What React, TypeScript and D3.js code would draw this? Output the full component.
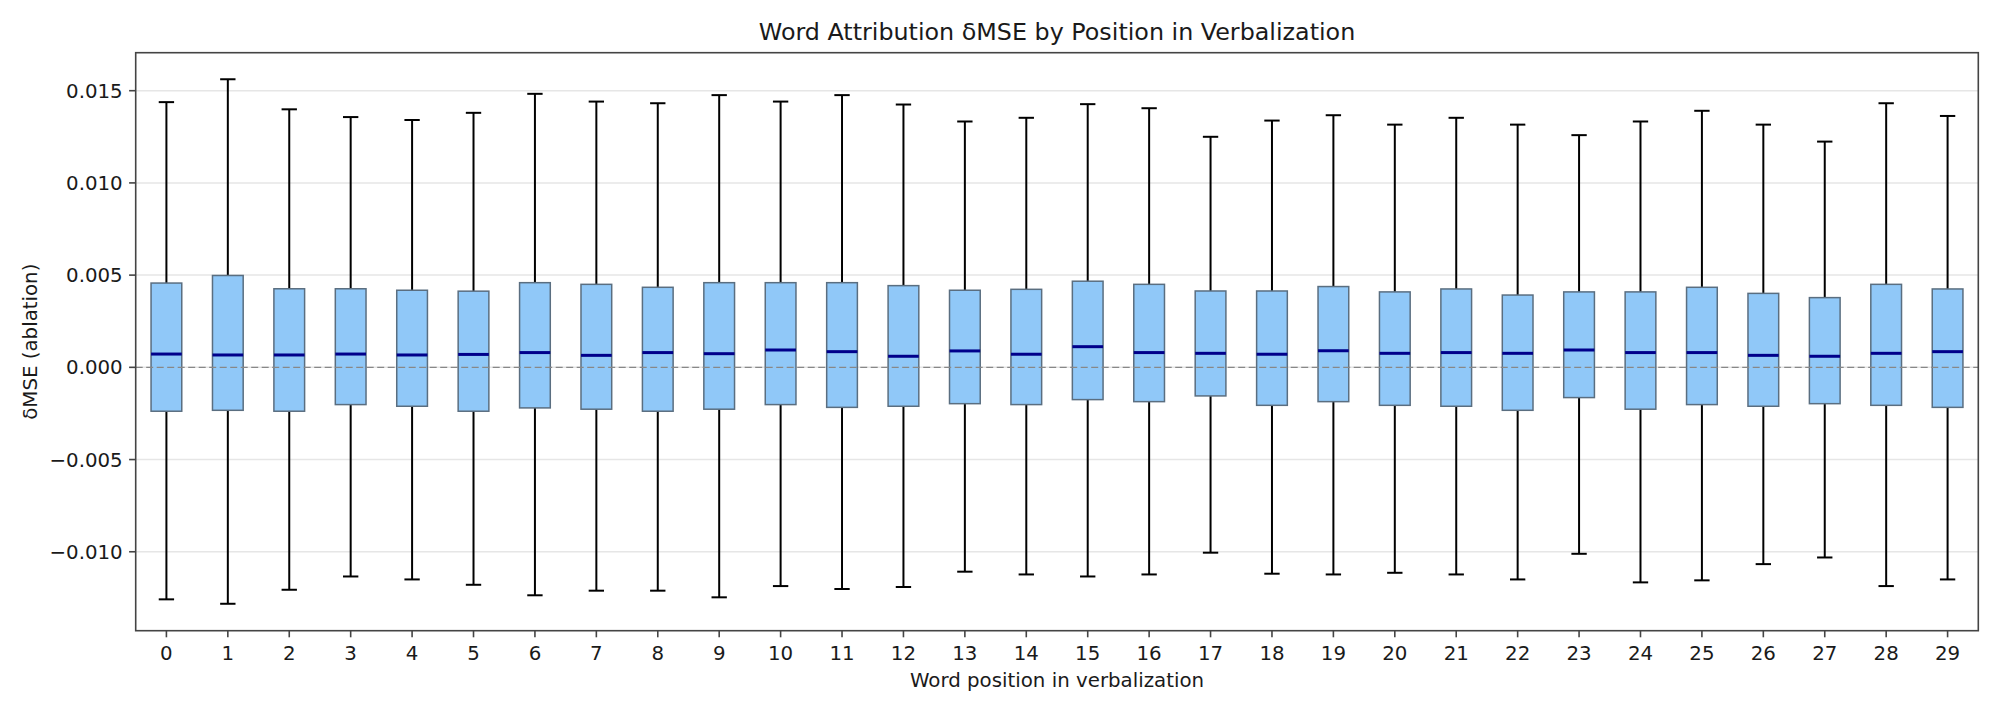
import * as d3 from "d3";

// Box statistics per word position
const positions = d3.range(30);

const whiskerHigh = [
  0.01438, 0.01562, 0.01399, 0.01357, 0.01341, 0.0138, 0.01483, 0.01441, 0.01432, 0.01476,
  0.01441, 0.01476, 0.01425, 0.01333, 0.01353, 0.01427, 0.01405, 0.0125, 0.01338, 0.01367,
  0.01316, 0.01353, 0.01316, 0.01259, 0.01333, 0.01391, 0.01316, 0.01224, 0.01432, 0.01363,
];

const q3 = [
  0.00457, 0.00498, 0.00426, 0.00426, 0.00418, 0.00413, 0.00459, 0.0045, 0.00434, 0.00459,
  0.00459, 0.00459, 0.00443, 0.00418, 0.00423, 0.00467, 0.0045, 0.00414, 0.00414, 0.00438,
  0.00409, 0.00425, 0.00392, 0.00409, 0.00409, 0.00434, 0.00401, 0.00378, 0.0045, 0.00425,
];

const medians = [
  0.00072, 0.00067, 0.00067, 0.00072, 0.00067, 0.0007, 0.0008, 0.00065, 0.0008, 0.00074,
  0.00094, 0.00085, 0.0006, 0.00089, 0.00071, 0.00112, 0.0008, 0.00076, 0.00071, 0.0009,
  0.00076, 0.0008, 0.00076, 0.00094, 0.0008, 0.0008, 0.00065, 0.0006, 0.00076, 0.00085,
];

const q1 = [
  -0.00238, -0.00233, -0.00238, -0.00202, -0.00211, -0.00238, -0.0022, -0.00227, -0.00238, -0.00227,
  -0.00202, -0.00217, -0.00211, -0.00197, -0.00202, -0.00175, -0.00186, -0.00155, -0.00206, -0.00186,
  -0.00206, -0.00211, -0.00233, -0.00164, -0.00227, -0.00202, -0.00211, -0.00197, -0.00206, -0.00217,
];

const whiskerLow = [
  -0.01258, -0.01282, -0.01206, -0.01134, -0.0115, -0.01179, -0.01236, -0.01211, -0.01211, -0.01247,
  -0.01186, -0.01202, -0.01191, -0.01108, -0.01123, -0.01134, -0.01123, -0.01005, -0.01119, -0.01123,
  -0.01114, -0.01123, -0.0115, -0.01011, -0.01166, -0.01155, -0.01067, -0.01031, -0.01186, -0.0115,
];

const yTicks = [-0.01, -0.005, 0, 0.005, 0.01, 0.015];

const WIDTH = 1999;
const HEIGHT = 714;
const FONT = "'DejaVu Sans', sans-serif";

const BOX_FILL = "#90c8f8";
const BOX_EDGE = "#5a6e80";
const MEDIAN = "#00008b";

export default function App() {
  const margin = { top: 52.7, right: WIDTH - 1978.3, bottom: HEIGHT - 630.7, left: 135.7 };

  const x = d3
    .scaleLinear()
    .domain([-0.5, 29.5])
    .range([margin.left, WIDTH - margin.right]);

  const y = d3
    .scaleLinear()
    .domain([-0.01428, 0.01706])
    .range([HEIGHT - margin.bottom, margin.top]);

  const unit = x(1) - x(0);
  const boxW = unit * 0.5;
  const capW = boxW * 0.5;
  const fmt = (v: number) => d3.format(".3f")(v).replace("-", "\u2212");

  const plotL = x.range()[0];
  const plotR = x.range()[1];
  const plotT = y.range()[1];
  const plotB = y.range()[0];

  return (
    <svg
      width={WIDTH}
      height={HEIGHT}
      style={{ position: "absolute", left: 0, top: 0, background: "#fff" }}
      fontFamily={FONT}
    >
      <rect width={WIDTH} height={HEIGHT} fill="#fff" />

      {/* grid */}
      {yTicks.map((t) => (
        <line key={`g${t}`} x1={plotL} x2={plotR} y1={y(t)} y2={y(t)} stroke="#e6e6e6" strokeWidth={1.5} />
      ))}

      {/* boxes */}
      {positions.map((p) => {
        const cx = x(p);
        return (
          <g key={p}>
            <line x1={cx} x2={cx} y1={y(q3[p])} y2={y(whiskerHigh[p])} stroke="#000" strokeWidth={2} />
            <line x1={cx} x2={cx} y1={y(q1[p])} y2={y(whiskerLow[p])} stroke="#000" strokeWidth={2} />
            <line x1={cx - capW / 2} x2={cx + capW / 2} y1={y(whiskerHigh[p])} y2={y(whiskerHigh[p])} stroke="#000" strokeWidth={2} />
            <line x1={cx - capW / 2} x2={cx + capW / 2} y1={y(whiskerLow[p])} y2={y(whiskerLow[p])} stroke="#000" strokeWidth={2} />
            <rect
              x={cx - boxW / 2}
              y={y(q3[p])}
              width={boxW}
              height={y(q1[p]) - y(q3[p])}
              fill={BOX_FILL}
              stroke={BOX_EDGE}
              strokeWidth={1.5}
            />
          </g>
        );
      })}

      {/* zero reference */}
      <line
        x1={plotL}
        x2={plotR}
        y1={y(0)}
        y2={y(0)}
        stroke="#888"
        strokeWidth={1.3}
        strokeDasharray="7,3.5"
      />

      {/* medians */}
      {positions.map((p) => (
        <line
          key={`m${p}`}
          x1={x(p) - boxW / 2}
          x2={x(p) + boxW / 2}
          y1={y(medians[p])}
          y2={y(medians[p])}
          stroke={MEDIAN}
          strokeWidth={3}
        />
      ))}

      {/* frame */}
      <rect x={plotL} y={plotT} width={plotR - plotL} height={plotB - plotT} fill="none" stroke="#444" strokeWidth={1.6} />

      {/* y axis */}
      {yTicks.map((t) => (
        <g key={`yt${t}`}>
          <line x1={plotL - 6.6} x2={plotL} y1={y(t)} y2={y(t)} stroke="#444" strokeWidth={1.6} />
          <text x={plotL - 13} y={y(t)} dy="0.36em" textAnchor="end" fontSize={19.8} fill="#1a1a1a">
            {fmt(t)}
          </text>
        </g>
      ))}

      {/* x axis */}
      {positions.map((p) => (
        <g key={`xt${p}`}>
          <line x1={x(p)} x2={x(p)} y1={plotB} y2={plotB + 6.6} stroke="#444" strokeWidth={1.6} />
          <text x={x(p)} y={660} textAnchor="middle" fontSize={19.8} fill="#1a1a1a">
            {p}
          </text>
        </g>
      ))}

      <text x={(plotL + plotR) / 2} y={687} textAnchor="middle" fontSize={19.8} fill="#1a1a1a">
        Word position in verbalization
      </text>
      <text
        transform={`translate(37, ${(plotT + plotB) / 2}) rotate(-90)`}
        textAnchor="middle"
        fontSize={19.8}
        fill="#1a1a1a"
      >
        δMSE (ablation)
      </text>
      <text x={(plotL + plotR) / 2} y={40} textAnchor="middle" fontSize={23.8} fill="#1a1a1a">
        Word Attribution δMSE by Position in Verbalization
      </text>
    </svg>
  );
}
